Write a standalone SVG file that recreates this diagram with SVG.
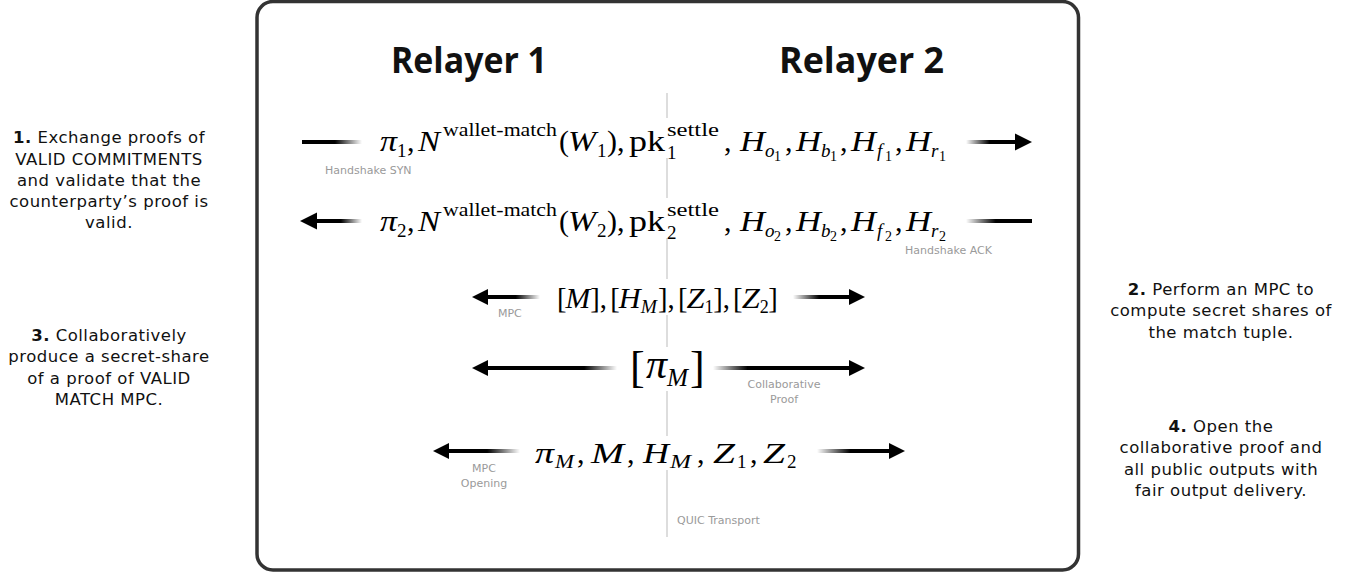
<svg xmlns="http://www.w3.org/2000/svg" width="1357" height="573" viewBox="0 0 1357 573">
<style>
.t{font-family:"Open Sans","DejaVu Sans",sans-serif;font-weight:700;font-size:35px;fill:#111}
.d{font-family:"DejaVu Sans",sans-serif;font-size:16.5px;fill:#111;text-anchor:middle;letter-spacing:0.5px}
.d .b{font-weight:700}
.l{font-family:"DejaVu Sans",sans-serif;font-size:11px;fill:#9a9a9a}
.lc{text-anchor:middle}
.m text{font-family:"Liberation Serif","Times New Roman",serif;font-size:30px;fill:#000}
.m .i{font-style:italic}
.m .s{font-size:19px}
.m .ss{font-size:14px}
.bg{fill:#fff}
.hd{fill:#000}
</style>
<defs>
<linearGradient id="fo" x1="0" x2="1" y1="0" y2="0"><stop offset="0" stop-color="#000"/><stop offset="0.55" stop-color="#000"/><stop offset="1" stop-color="#000" stop-opacity="0"/></linearGradient>
<linearGradient id="fi" x1="0" x2="1" y1="0" y2="0"><stop offset="0" stop-color="#000" stop-opacity="0"/><stop offset="0.45" stop-color="#000"/><stop offset="1" stop-color="#000"/></linearGradient>
<linearGradient id="foL" x1="0" x2="1" y1="0" y2="0"><stop offset="0" stop-color="#000"/><stop offset="0.75" stop-color="#000"/><stop offset="1" stop-color="#000" stop-opacity="0"/></linearGradient>
<linearGradient id="fiL" x1="0" x2="1" y1="0" y2="0"><stop offset="0" stop-color="#000" stop-opacity="0"/><stop offset="0.25" stop-color="#000"/><stop offset="1" stop-color="#000"/></linearGradient>
</defs>
<rect width="1357" height="573" fill="#fff"/>
<g id="frame"><rect x="257" y="1.5" width="821.5" height="568.5" rx="16" fill="none" stroke="#333" stroke-width="3.5"/></g>
<g id="divider"><line x1="667" y1="93" x2="667" y2="537" stroke="#d2d2d2" stroke-width="1.5"/></g>
<g id="title-relayer1"><text class="t" x="391" y="73" textLength="156" lengthAdjust="spacingAndGlyphs">Relayer 1</text></g>
<g id="title-relayer2"><text class="t" x="779" y="73" textLength="165" lengthAdjust="spacingAndGlyphs">Relayer 2</text></g>

<g id="connectors">
<rect x="302" y="140" width="60" height="4" fill="url(#fo)"/>
<rect x="966" y="140" width="52" height="4" fill="url(#fi)"/>
<polygon class="hd" points="1032,142 1015,133.5 1015,150.5"/>
<polygon class="hd" points="300,221 317,212.5 317,229.5"/>
<rect x="315" y="219" width="47" height="4" fill="url(#fo)"/>
<rect x="966" y="219" width="66" height="4" fill="url(#fi)"/>
<polygon class="hd" points="472,297 488,289 488,305"/>
<rect x="486" y="295" width="54" height="4" fill="url(#fo)"/>
<rect x="793" y="295" width="58" height="4" fill="url(#fi)"/>
<polygon class="hd" points="865,297 849,289 849,305"/>
<polygon class="hd" points="472,368 488,360 488,376"/>
<rect x="486" y="366" width="131" height="4" fill="url(#foL)"/>
<rect x="713" y="366" width="138" height="4" fill="url(#fiL)"/>
<polygon class="hd" points="865,368 849,360 849,376"/>
<polygon class="hd" points="433,451 449,443 449,459"/>
<rect x="447" y="449" width="73" height="4" fill="url(#fo)"/>
<rect x="817" y="449" width="74" height="4" fill="url(#fi)"/>
<polygon class="hd" points="905,451 889,443 889,459"/>
</g>

<g id="msg-syn" class="m">
<rect class="bg" x="376" y="118" width="578" height="40"/>
<text class="i" x="380" y="151" textLength="17" lengthAdjust="spacingAndGlyphs">π</text>
<text class="s" x="397" y="157">1</text>
<text x="407" y="151">,</text>
<text class="i" x="418" y="151" textLength="22" lengthAdjust="spacingAndGlyphs">N</text>
<text class="s" x="443" y="136" textLength="114" lengthAdjust="spacingAndGlyphs">wallet-match</text>
<text x="559" y="151">(</text>
<text class="i" x="568" y="151" textLength="28" lengthAdjust="spacingAndGlyphs">W</text>
<text class="s" x="597" y="157">1</text>
<text x="607" y="151">)</text>
<text x="617" y="151">,</text>
<text x="629" y="151" textLength="36" lengthAdjust="spacingAndGlyphs">pk</text>
<text class="s" x="667" y="159">1</text>
<text class="s" x="667" y="136" textLength="52" lengthAdjust="spacingAndGlyphs">settle</text>
<text x="724" y="151">,</text>
<text class="i" x="740" y="151" textLength="25" lengthAdjust="spacingAndGlyphs">H</text>
<text class="s i" x="765" y="157">o</text>
<text class="ss" x="774" y="161">1</text>
<text x="785" y="151">,</text>
<text class="i" x="796" y="151" textLength="25" lengthAdjust="spacingAndGlyphs">H</text>
<text class="s i" x="821" y="157">b</text>
<text class="ss" x="830" y="161">1</text>
<text x="840" y="151">,</text>
<text class="i" x="851" y="151" textLength="25" lengthAdjust="spacingAndGlyphs">H</text>
<text class="s i" x="877" y="157">f</text>
<text class="ss" x="885" y="161">1</text>
<text x="895" y="151">,</text>
<text class="i" x="906" y="151" textLength="25" lengthAdjust="spacingAndGlyphs">H</text>
<text class="s i" x="931" y="157">r</text>
<text class="ss" x="939" y="161">1</text>
</g>
<g id="label-syn"><text class="l" x="325" y="174">Handshake SYN</text></g>

<g id="msg-ack" class="m">
<rect class="bg" x="376" y="198" width="578" height="40"/>
<text class="i" x="380" y="231" textLength="17" lengthAdjust="spacingAndGlyphs">π</text>
<text class="s" x="397" y="237">2</text>
<text x="407" y="231">,</text>
<text class="i" x="418" y="231" textLength="22" lengthAdjust="spacingAndGlyphs">N</text>
<text class="s" x="443" y="216" textLength="114" lengthAdjust="spacingAndGlyphs">wallet-match</text>
<text x="559" y="231">(</text>
<text class="i" x="568" y="231" textLength="28" lengthAdjust="spacingAndGlyphs">W</text>
<text class="s" x="597" y="237">2</text>
<text x="607" y="231">)</text>
<text x="617" y="231">,</text>
<text x="629" y="231" textLength="36" lengthAdjust="spacingAndGlyphs">pk</text>
<text class="s" x="667" y="239">2</text>
<text class="s" x="667" y="216" textLength="52" lengthAdjust="spacingAndGlyphs">settle</text>
<text x="724" y="231">,</text>
<text class="i" x="740" y="231" textLength="25" lengthAdjust="spacingAndGlyphs">H</text>
<text class="s i" x="765" y="237">o</text>
<text class="ss" x="774" y="241">2</text>
<text x="785" y="231">,</text>
<text class="i" x="796" y="231" textLength="25" lengthAdjust="spacingAndGlyphs">H</text>
<text class="s i" x="821" y="237">b</text>
<text class="ss" x="830" y="241">2</text>
<text x="840" y="231">,</text>
<text class="i" x="851" y="231" textLength="25" lengthAdjust="spacingAndGlyphs">H</text>
<text class="s i" x="877" y="237">f</text>
<text class="ss" x="885" y="241">2</text>
<text x="895" y="231">,</text>
<text class="i" x="906" y="231" textLength="25" lengthAdjust="spacingAndGlyphs">H</text>
<text class="s i" x="931" y="237">r</text>
<text class="ss" x="939" y="241">2</text>
</g>
<g id="label-ack"><text class="l" x="905" y="254">Handshake ACK</text></g>

<g id="msg-mpc" class="m">
<rect class="bg" x="553" y="279" width="230" height="36"/>
<g transform="translate(557,0) scale(0.952,1) translate(-557,0)">
<text x="557" y="308">[</text>
<text class="i" x="566" y="308" textLength="26" lengthAdjust="spacingAndGlyphs">M</text>
<text x="592" y="308">]</text>
<text x="602" y="308">,</text>
<text x="613" y="308">[</text>
<text class="i" x="622" y="308" textLength="23" lengthAdjust="spacingAndGlyphs">H</text>
<text class="s i" x="645" y="313" textLength="17" lengthAdjust="spacingAndGlyphs">M</text>
<text x="663" y="308">]</text>
<text x="673" y="308">,</text>
<text x="684" y="308">[</text>
<text class="i" x="693" y="308" textLength="19" lengthAdjust="spacingAndGlyphs">Z</text>
<text class="s" x="712" y="313">1</text>
<text x="721" y="308">]</text>
<text x="731" y="308">,</text>
<text x="742" y="308">[</text>
<text class="i" x="751" y="308" textLength="19" lengthAdjust="spacingAndGlyphs">Z</text>
<text class="s" x="770" y="313">2</text>
<text x="779" y="308">]</text>
</g>
</g>
<g id="label-mpc"><text class="l" x="498" y="317">MPC</text></g>

<g id="msg-proof" class="m">
<rect class="bg" x="627" y="347" width="80" height="44"/>
<text x="630" y="382" style="font-size:44px">[</text>
<text class="i" x="646" y="378" style="font-size:42px" textLength="21" lengthAdjust="spacingAndGlyphs">π</text>
<text class="i" x="667" y="386" style="font-size:26px" textLength="21" lengthAdjust="spacingAndGlyphs">M</text>
<text x="690" y="382" style="font-size:44px">]</text>
</g>
<g id="label-proof"><text class="l lc" x="784" y="388">Collaborative</text><text class="l lc" x="784" y="403">Proof</text></g>

<g id="msg-open" class="m">
<rect class="bg" x="531" y="436" width="272" height="34"/>
<text class="i" x="535" y="463" textLength="19" lengthAdjust="spacingAndGlyphs">π</text>
<text class="s i" x="555" y="468" textLength="19" lengthAdjust="spacingAndGlyphs">M</text>
<text x="577" y="463">,</text>
<text class="i" x="591" y="463" textLength="33" lengthAdjust="spacingAndGlyphs">M</text>
<text x="627" y="463">,</text>
<text class="i" x="643" y="463" textLength="26" lengthAdjust="spacingAndGlyphs">H</text>
<text class="s i" x="670" y="468" textLength="21" lengthAdjust="spacingAndGlyphs">M</text>
<text x="697" y="463">,</text>
<text class="i" x="713" y="463" textLength="22" lengthAdjust="spacingAndGlyphs">Z</text>
<text class="s" x="737" y="468">1</text>
<text x="750" y="463">,</text>
<text class="i" x="763" y="463" textLength="22" lengthAdjust="spacingAndGlyphs">Z</text>
<text class="s" x="787" y="468">2</text>
</g>
<g id="label-open"><text class="l lc" x="484" y="472">MPC</text><text class="l lc" x="484" y="487">Opening</text></g>
<g id="label-quic"><text class="l" x="677" y="524">QUIC Transport</text></g>

<g id="step1">
<text class="d"><tspan x="109" y="143"><tspan class="b">1.</tspan> Exchange proofs of</tspan><tspan x="109" y="165">VALID COMMITMENTS</tspan><tspan x="109" y="186">and validate that the</tspan><tspan x="109" y="207">counterparty’s proof is</tspan><tspan x="109" y="228">valid.</tspan></text>
</g>
<g id="step3">
<text class="d"><tspan x="109" y="341"><tspan class="b">3.</tspan> Collaboratively</tspan><tspan x="109" y="362">produce a secret-share</tspan><tspan x="109" y="384">of a proof of VALID</tspan><tspan x="109" y="405">MATCH MPC.</tspan></text>
</g>
<g id="step2">
<text class="d"><tspan x="1221" y="295"><tspan class="b">2.</tspan> Perform an MPC to</tspan><tspan x="1221" y="316">compute secret shares of</tspan><tspan x="1221" y="338">the match tuple.</tspan></text>
</g>
<g id="step4">
<text class="d"><tspan x="1221" y="432"><tspan class="b">4.</tspan> Open the</tspan><tspan x="1221" y="453">collaborative proof and</tspan><tspan x="1221" y="475">all public outputs with</tspan><tspan x="1221" y="496">fair output delivery.</tspan></text>
</g>
</svg>
